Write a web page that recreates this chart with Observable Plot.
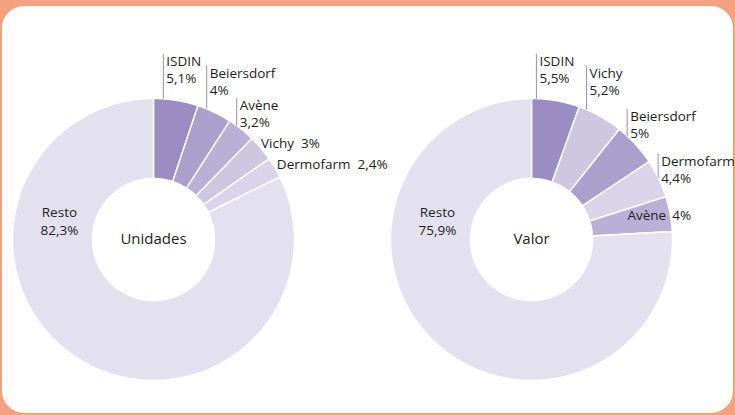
<!DOCTYPE html>
<html><head><meta charset="utf-8">
<script src="https://cdn.jsdelivr.net/npm/d3@7"></script>
<script src="https://cdn.jsdelivr.net/npm/@observablehq/plot@0.6"></script>
<style>
html,body{margin:0;padding:0;background:#F5A07F;width:735px;height:415px;overflow:hidden}
#card{position:absolute;left:2px;top:6px;width:731px;height:407px;background:#fff;border-radius:22px}
#chart{position:absolute;left:0;top:0}
</style></head><body><div id="card"></div><div id="chart"></div>
<script>
// ---- data ----
const brands = ["ISDIN", "Beiersdorf", "Avène", "Vichy", "Dermofarm", "Resto"];
const brandColors = ["#9B8CC3", "#AB9FCD", "#B9B0D7", "#CDC7E2", "#D9D4EA", "#E3E0EF"];
const unidadesBrands = ["ISDIN", "Beiersdorf", "Avène", "Vichy", "Dermofarm", "Resto"];
const unidadesValues = [5.1, 4, 3.2, 3, 2.4, 82.3];
const valorBrands = ["ISDIN", "Vichy", "Beiersdorf", "Dermofarm", "Avène", "Resto"];
const valorValues = [5.5, 5.2, 5, 4.4, 4, 75.9];
const chartTitles = ["Unidades", "Valor"];

// ---- layout ----
const W = 735, H = 415, R = 141, R0 = 61;
const deg = Math.PI / 180;
const charts = [
  {title: chartTitles[0], brands: unidadesBrands, values: unidadesValues, cx: 153, cy: 239,
   labels: {
     "ISDIN": {type: "lead", off: 4, lead: 45},
     "Beiersdorf": {type: "lead", off: 3.8, lead: 43.5},
     "Avène": {type: "lead", off: 3.4, lead: 28},
     "Vichy": {type: "inline", dx: 0, dy: 0},
     "Dermofarm": {type: "inline", dx: 2, dy: 1},
     "Resto": {type: "resto"}
   }},
  {title: chartTitles[1], brands: valorBrands, values: valorValues, cx: 531, cy: 239,
   labels: {
     "ISDIN": {type: "lead", off: 2, lead: 45},
     "Vichy": {type: "lead", off: 3.2, lead: 44},
     "Beiersdorf": {type: "lead", off: 4.2, lead: 27},
     "Dermofarm": {type: "lead", off: 7.4, lead: 24},
     "Avène": {type: "split", dx: 2, dy: 6.5},
     "Resto": {type: "resto"}
   }}
];

const fmt = v => String(v).replace(".", ",") + "%";
const px = (c, a, r) => c.cx + r * Math.sin(a);
const py = (c, a, r) => c.cy - r * Math.cos(a);

const polys = [], leaders = [], tStart = [], tEnd = [], tMid = [], tCenter = [];
charts.forEach((c, ci) => {
  const arcs = d3.pie().sort(null).value(d => d)(c.values);
  arcs.forEach((a, i) => {
    const brand = c.brands[i], key = ci + "-" + brand;
    const n = Math.max(2, Math.ceil((a.endAngle - a.startAngle) / (0.5 * deg)));
    const pts = [];
    for (let k = 0; k <= n; k++) {
      const t = a.startAngle + (a.endAngle - a.startAngle) * k / n;
      pts.push({x: px(c, t, R), y: py(c, t, R), key, brand});
    }
    for (let k = n; k >= 0; k--) {
      const t = a.startAngle + (a.endAngle - a.startAngle) * k / n;
      pts.push({x: px(c, t, R0), y: py(c, t, R0), key, brand});
    }
    pts.push({...pts[0]});
    polys.push(...pts);

    const L = c.labels[brand];
    const val = fmt(c.values[i]);
    if (L.type === "lead") {
      const t = a.startAngle + L.off * deg;
      const x = px(c, t, R), y = py(c, t, R), top = y - L.lead;
      leaders.push({x1: x, y1: y, x2: x, y2: top});
      tStart.push({x: x + 3, y: top + 12.5, text: brand});
      tStart.push({x: x + 3, y: top + 29.5, text: val});
    } else if (L.type === "inline") {
      const t = (a.startAngle + a.endAngle) / 2;
      tStart.push({x: px(c, t, R) + L.dx, y: py(c, t, R) + L.dy, text: brand + "\u00a0\u00a0" + val});
    } else if (L.type === "split") {
      const t = (a.startAngle + a.endAngle) / 2;
      const x = px(c, t, R), y = py(c, t, R) + L.dy;
      tEnd.push({x: x - 4, y, text: brand});
      tStart.push({x: x + L.dx, y, text: val});
    } else if (L.type === "resto") {
      const t = 278 * deg, rr = 95;
      const x = px(c, t, rr), y = py(c, t, rr);
      tMid.push({x, y: y - 9, text: brand});
      tMid.push({x, y: y + 9, text: val});
    }
  });
  tCenter.push({x: c.cx, y: c.cy, text: c.title});
});

const chart = Plot.plot({
  width: W, height: H, margin: 0,
  x: {domain: [0, W], range: [0, W], axis: null},
  y: {domain: [0, H], range: [0, H], axis: null},
  color: {domain: brands, range: brandColors},
  style: {background: "transparent", fontFamily: "'Open Sans', sans-serif", overflow: "hidden"},
  marks: [
    Plot.line(polys, {x: "x", y: "y", z: "key", fill: "brand", stroke: "white", strokeWidth: 1.5, curve: "linear"}),
    Plot.link(leaders, {x1: "x1", y1: "y1", x2: "x2", y2: "y2", stroke: "#9B8CC3", strokeWidth: 1}),
    Plot.text(tStart, {x: "x", y: "y", text: "text", textAnchor: "start", lineAnchor: "bottom", fontSize: 13.5, fill: "#231F20"}),
    Plot.text(tEnd, {x: "x", y: "y", text: "text", textAnchor: "end", lineAnchor: "bottom", fontSize: 13.5, fill: "#231F20"}),
    Plot.text(tMid, {x: "x", y: "y", text: "text", textAnchor: "middle", lineAnchor: "bottom", fontSize: 13.5, fill: "#231F20"}),
    Plot.text(tCenter, {x: "x", y: "y", text: "text", textAnchor: "middle", lineAnchor: "middle", fontSize: 15, fill: "#231F20"})
  ]
});
document.getElementById("chart").appendChild(chart);
</script></body></html>
